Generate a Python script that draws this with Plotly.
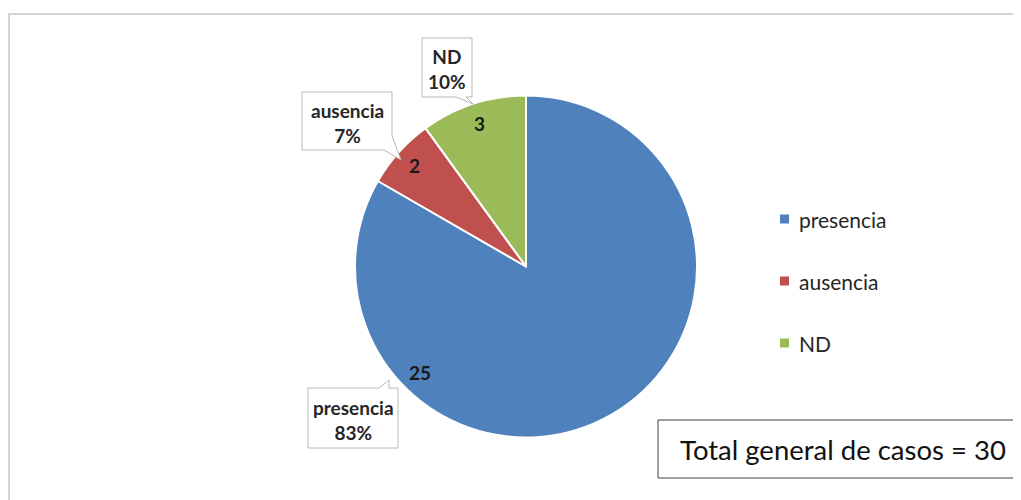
import math
import plotly.graph_objects as go

# data
labels = ['presencia', 'ausencia', 'ND']
counts = [25, 2, 3]
colors = ['#4F81BD', '#C0504D', '#9BBB59']
total_text = 'Total general de casos = 30'

# the page body has an 8px margin, so the figure is 8px smaller and shifted
OFF = 8
W, H = 1021 - OFF, 500 - OFF
FONT = 'Lato, Calibri, Arial, sans-serif'


def X(px):
    return (px - OFF) / W


def Y(py):
    return 1 - (py - OFF) / H


def note(px, py, text, size, color='#262626', xanchor='center'):
    return dict(x=X(px), y=Y(py), xref='paper', yref='paper', text=text,
                showarrow=False, xanchor=xanchor, yanchor='middle',
                font=dict(family=FONT, size=size, color=color))


# pie placement in (screen) pixels
cx, cy, r = 526, 266.5, 171

fig = go.Figure(go.Pie(
    labels=labels,
    values=counts,
    marker=dict(colors=colors, line=dict(color='white', width=2)),
    sort=False,
    direction='clockwise',
    rotation=0,
    textinfo='none',
    hoverinfo='label+value+percent',
    showlegend=False,
    domain=dict(x=[X(cx - r), X(cx + r)], y=[Y(cy + r), Y(cy - r)]),
))

shapes = []
annotations = []

# chart area border
shapes.append(dict(type='rect', xref='paper', yref='paper',
                   x0=X(9), x1=X(1030), y0=Y(510), y1=Y(14),
                   line=dict(color='#d4d4d4', width=2), fillcolor='rgba(0,0,0,0)'))

# value labels inside slices (angle clockwise from top)
total = sum(counts)
cum = 0
label_angles = []
for v in counts:
    label_angles.append((cum + v / 2) / total * 360)
    cum += v
label_angles[0] = 225  # excel "best fit" moved the big one toward its callout
for v, ang in zip(counts, label_angles):
    a = math.radians(ang)
    px = cx + 0.88 * r * math.sin(a)
    py = cy - 0.88 * r * math.cos(a)
    annotations.append(note(px, py, '<b>%d</b>' % v, 19, '#1a1a1a'))

# callout boxes: outline path (pixels) + text centre
pcts = [round(v / total * 100) for v in counts]
callouts = {
    'ND': ([(422, 38), (472, 38), (472, 97), (466, 97), (473, 104), (456, 97), (422, 97)], (447, 69)),
    'ausencia': ([(302, 92), (392, 92), (392, 136), (401, 160), (384, 150), (302, 150)], (347, 123)),
    'presencia': ([(308, 388), (379, 388), (389, 380), (389, 388), (398, 388), (398, 448), (308, 448)], (353, 420)),
}
for lab, p in zip(labels, pcts):
    pts, (tx, ty) = callouts[lab]
    path = 'M ' + ' L '.join('%f,%f' % (X(a), Y(b)) for a, b in pts) + ' Z'
    shapes.append(dict(type='path', xref='paper', yref='paper', path=path,
                       line=dict(color='#b8b8b8', width=1), fillcolor='white'))
    annotations.append(note(tx, ty, '<b>%s</b><br><b>%d%%</b>' % (lab, p), 19))

# legend drawn by hand so the row spacing matches
for i, (lab, col) in enumerate(zip(labels, colors)):
    ly = 219 + i * 62
    shapes.append(dict(type='rect', xref='paper', yref='paper',
                       x0=X(780), x1=X(789), y0=Y(ly + 4.5), y1=Y(ly - 4.5),
                       line=dict(width=0), fillcolor=col))
    annotations.append(note(797, ly, lab, 21, xanchor='left'))

# total box
shapes.append(dict(type='rect', xref='paper', yref='paper',
                   x0=X(658), x1=X(1030), y0=Y(478), y1=Y(420),
                   line=dict(color='#404040', width=1), fillcolor='white'))
annotations.append(note(678, 449, total_text, 27.5, '#111111', xanchor='left'))

fig.update_layout(
    width=W, height=H,
    margin=dict(l=0, r=0, t=0, b=0),
    paper_bgcolor='white',
    plot_bgcolor='white',
    shapes=shapes,
    annotations=annotations,
)

fig.write_html("out.html")
